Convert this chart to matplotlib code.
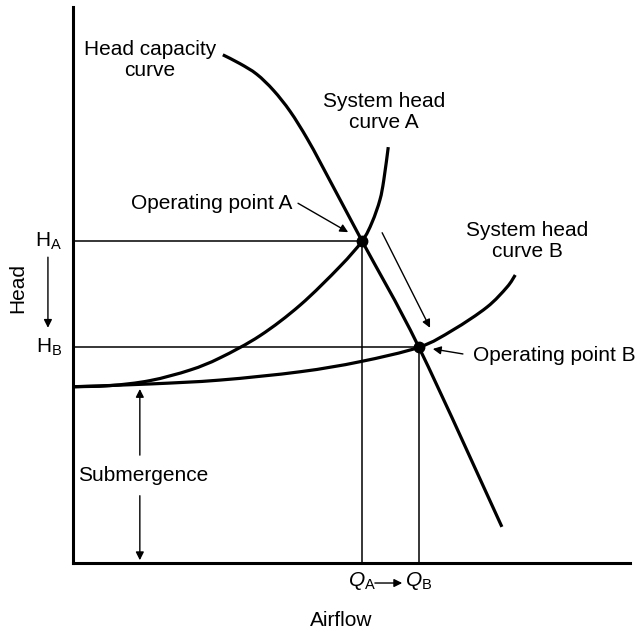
import matplotlib
matplotlib.use("Agg")
import matplotlib.pyplot as plt
import numpy as np
from matplotlib.path import Path
from matplotlib.patches import PathPatch

plt.rcParams['font.family'] = ['Liberation Sans', 'DejaVu Sans']
plt.rcParams['mathtext.fontset'] = 'custom'
plt.rcParams['mathtext.rm'] = 'Liberation Sans'
plt.rcParams['mathtext.it'] = 'Liberation Sans:italic'

# ---- data (arbitrary 0-100 schematic units) ----
head_cap_x = [26.9, 30.0, 33.0, 36.0, 39.0, 42.0, 45.0, 51.9, 62.1, 77.0]
head_cap_y = [91.4, 89.8, 87.9, 85.0, 81.2, 76.4, 70.9, 57.9, 38.8, 6.5]

sys_a_x = [0, 6.6, 13.8, 21.0, 26.4, 33.6, 40.8, 47.9, 51.9, 53.7, 55.1, 55.8, 56.6]
sys_a_y = [31.7, 31.9, 32.8, 34.7, 36.9, 40.9, 46.4, 53.3, 57.9, 61.3, 65.3, 68.9, 74.8]

sys_b_x = [0, 13.8, 26.4, 40.8, 51.5, 62.1, 68.2, 74.3, 77.9, 79.4]
sys_b_y = [31.7, 32.2, 32.9, 34.4, 36.2, 38.8, 41.9, 46.0, 49.6, 51.8]

op_names = ["A", "B"]
op_q = [51.9, 62.1]
op_h = [57.9, 38.8]
submergence = 31.7

fig = plt.figure(figsize=(6.38, 6.30), dpi=100)
ax = fig.add_axes([73/638, 67/630, 557/638, 556/630])
ax.set_xlim(0, 100)
ax.set_ylim(0, 100)
for s in ["top", "right"]:
    ax.spines[s].set_visible(False)
for s in ["left", "bottom"]:
    ax.spines[s].set_linewidth(2.2)
ax.set_xticks([])
ax.set_yticks([])

FS = 15
lw_thick = 2.3
lw_thin = 1.1


def smooth_curve(xs, ys):
    """Smooth path through the read points (Catmull-Rom drawn as Bezier)."""
    pts = np.column_stack([xs, ys]).astype(float)
    n = len(pts)
    verts = [pts[0]]
    codes = [Path.MOVETO]
    for i in range(n - 1):
        p0 = pts[i - 1] if i > 0 else pts[i]
        p1 = pts[i]
        p2 = pts[i + 1]
        p3 = pts[i + 2] if i + 2 < n else pts[i + 1]
        verts += [p1 + (p2 - p0) / 6.0, p2 - (p3 - p1) / 6.0, p2]
        codes += [Path.CURVE4] * 3
    return PathPatch(Path(verts, codes), fill=False, edgecolor="black",
                     lw=lw_thick, capstyle="butt", zorder=3)


# guide lines
for q, h in zip(op_q, op_h):
    ax.plot([0, q], [h, h], color="black", lw=lw_thin, zorder=2)
    ax.plot([q, q], [0, h], color="black", lw=lw_thin, zorder=2)

# curves
ax.add_patch(smooth_curve(head_cap_x, head_cap_y))
ax.add_patch(smooth_curve(sys_a_x, sys_a_y))
ax.add_patch(smooth_curve(sys_b_x, sys_b_y))

# operating points
ax.plot(op_q, op_h, "o", color="black", ms=7.5, zorder=4)

arrow_kw = dict(arrowstyle="-|>", color="black", lw=1.0, mutation_scale=12,
                shrinkA=0, shrinkB=0)

# labels
ax.text(13.8, 90.5, "Head capacity\ncurve", ha="center", va="center", fontsize=FS, linespacing=1.1)
ax.text(55.8, 81.1, "System head\ncurve A", ha="center", va="center", fontsize=FS, linespacing=1.1)
ax.text(81.5, 57.9, "System head\ncurve B", ha="center", va="center", fontsize=FS, linespacing=1.1)

ax.text(39.3, 64.7, "Operating point A", ha="right", va="center", fontsize=FS)
ax.annotate("", xy=(49.4, 59.5), xytext=(40.4, 64.7), arrowprops=arrow_kw)
ax.text(71.8, 37.4, "Operating point B", ha="left", va="center", fontsize=FS, clip_on=False)
ax.annotate("", xy=(64.6, 38.5), xytext=(70.0, 37.6), arrowprops=arrow_kw)

# shift arrow A -> B
ax.annotate("", xy=(64.1, 42.3), xytext=(55.5, 59.4), arrowprops=arrow_kw)

# submergence
ax.annotate("", xy=(12.0, submergence - 0.4), xytext=(12.0, 19.4), arrowprops=arrow_kw)
ax.annotate("", xy=(12.0, 0.5), xytext=(12.0, 12.1), arrowprops=arrow_kw)
ax.text(12.6, 15.8, "Submergence", ha="center", va="center", fontsize=FS)

# axis labels
for name, q, h in zip(op_names, op_q, op_h):
    ax.text(-2.0, h, r"$\mathrm{H_{%s}}$" % name, ha="right", va="center",
            fontsize=FS, clip_on=False)
    ax.text(q, -3.2, r"$Q_{\mathrm{%s}}$" % name, ha="center", va="center",
            fontsize=FS, clip_on=False)

ax.annotate("", xy=(-4.5, 42.3), xytext=(-4.5, 55.0), arrowprops=arrow_kw,
            annotation_clip=False)
ax.annotate("", xy=(59.1, -3.6), xytext=(54.2, -3.6), arrowprops=arrow_kw,
            annotation_clip=False)

ax.text(-9.9, 49.5, "Head", rotation=90, ha="center", va="center", fontsize=FS, clip_on=False)
ax.text(48.1, -10.3, "Airflow", ha="center", va="center", fontsize=FS, clip_on=False)

fig.savefig("out.png", dpi=100)
